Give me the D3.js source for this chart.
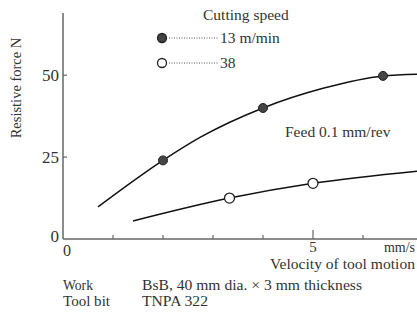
<!DOCTYPE html>
<html><head><meta charset="utf-8">
<script src="https://cdn.jsdelivr.net/npm/d3@7"></script>
<style>
body{margin:0;background:#fff;}
text{font-family:"Liberation Serif","Times New Roman",serif;fill:#333;}
</style></head>
<body>
<svg id="c" width="417" height="313"></svg>
<script>
// Data
const yTicks = [0, 25, 50];
const xTicks = [1, 2, 3, 4, 5, 6];
const xTickLabels = ["", "", "", "", "5", ""];
// Cutting speed 13 m/min (filled markers)
const s13Points = [[2, 24], [4, 40], [6.4, 49.8]];
const s13Curve = [[0.7, 9.8], [2, 24], [2.74, 31], [4, 40], [5.2, 46], [6.4, 49.8], [7.08, 50.3]];
// Cutting speed 38 m/min (open markers)
const s38Points = [[3.33, 12.5], [5, 17]];
const s38Curve = [[1.4, 5.5], [3.33, 12.5], [5, 17], [7.08, 20.7]];
const legendLabels = ["13 m/min", "38"];

const svg = d3.select("#c");
const x = d3.scaleLinear().domain([0, 7.08]).range([63, 417]);
const y = d3.scaleLinear().domain([0, 69]).range([239, 13]);

// axes
svg.append("line").attr("x1", x(0)).attr("x2", 417).attr("y1", y(0)).attr("y2", y(0)).attr("stroke", "#666").attr("stroke-width", 1.5);
svg.append("line").attr("x1", x(0)).attr("x2", x(0)).attr("y1", y(0)).attr("y2", y(69)).attr("stroke", "#666").attr("stroke-width", 1.5);

// y ticks
yTicks.forEach(v => {
  if (v > 0) svg.append("line").attr("x1", x(0)).attr("x2", x(0) + 4).attr("y1", y(v)).attr("y2", y(v)).attr("stroke", "#666").attr("stroke-width", 1.2);
  svg.append("text").attr("x", x(0) - 4).attr("y", y(v) + (v === 0 ? 3 : 6)).attr("text-anchor", "end").attr("font-size", 17).text(v);
});
svg.append("text").attr("x", x(0) + 0).attr("y", 256).attr("font-size", 16).text("0");

// x ticks
xTicks.forEach((v, i) => {
  const big = xTickLabels[i] !== "";
  svg.append("line").attr("x1", x(v)).attr("x2", x(v)).attr("y1", y(0)).attr("y2", y(0) - (big ? 9 : 4)).attr("stroke", "#666").attr("stroke-width", 1.2);
  if (big) svg.append("text").attr("x", x(v)).attr("y", 252).attr("text-anchor", "middle").attr("font-size", 15).text(xTickLabels[i]);
});
svg.append("text").attr("x", 415).attr("y", 252).attr("text-anchor", "end").attr("font-size", 14).text("mm/s");
svg.append("text").attr("x", 270).attr("y", 269).attr("font-size", 15)
  .attr("textLength", 145).attr("lengthAdjust", "spacingAndGlyphs").text("Velocity of tool motion");

// y label
svg.append("text").attr("transform", "translate(21,88) rotate(-90)").attr("text-anchor", "middle").attr("font-size", 14.5).text("Resistive force N");

// curves
const line = d3.line().x(d => x(d[0])).y(d => y(d[1])).curve(d3.curveMonotoneX);
[s13Curve, s38Curve].forEach(c => {
  svg.append("path").attr("d", line(c)).attr("fill", "none").attr("stroke", "#111").attr("stroke-width", 1.5);
});

// markers
svg.selectAll(".f").data(s13Points).enter().append("circle")
  .attr("cx", d => x(d[0])).attr("cy", d => y(d[1])).attr("r", 4.5)
  .attr("fill", "#444").attr("stroke", "#222").attr("stroke-width", 1);
svg.selectAll(".o").data(s38Points).enter().append("circle")
  .attr("cx", d => x(d[0])).attr("cy", d => y(d[1])).attr("r", 5)
  .attr("fill", "#fff").attr("stroke", "#222").attr("stroke-width", 1.3);

// legend
svg.append("text").attr("x", 203).attr("y", 20).attr("font-size", 15.5).text("Cutting speed");
[38, 63].forEach((ly, i) => {
  svg.append("circle").attr("cx", 162).attr("cy", ly).attr("r", 4.5)
    .attr("fill", i === 0 ? "#444" : "#fff").attr("stroke", "#222").attr("stroke-width", 1.3);
  svg.append("line").attr("x1", 169).attr("x2", 218).attr("y1", ly).attr("y2", ly)
    .attr("stroke", "#555").attr("stroke-width", 1).attr("stroke-dasharray", "1,1.5");
  svg.append("text").attr("x", 220).attr("y", ly + 5).attr("font-size", 15.5).text(legendLabels[i]);
});

svg.append("text").attr("x", 285).attr("y", 137).attr("font-size", 15.5).text("Feed 0.1 mm/rev");

// notes
const noteSize = 14;
svg.append("text").attr("x", 63).attr("y", 290).attr("font-size", noteSize).attr("textLength", 30).attr("lengthAdjust", "spacingAndGlyphs").text("Work");
svg.append("text").attr("x", 63).attr("y", 306).attr("font-size", noteSize).attr("textLength", 47).attr("lengthAdjust", "spacingAndGlyphs").text("Tool bit");
svg.append("text").attr("x", 142).attr("y", 290).attr("font-size", noteSize).attr("textLength", 220).attr("lengthAdjust", "spacingAndGlyphs").text("BsB, 40 mm dia. × 3 mm thickness");
svg.append("text").attr("x", 142).attr("y", 306).attr("font-size", noteSize).attr("textLength", 66).attr("lengthAdjust", "spacingAndGlyphs").text("TNPA 322");
</script>
</body></html>
